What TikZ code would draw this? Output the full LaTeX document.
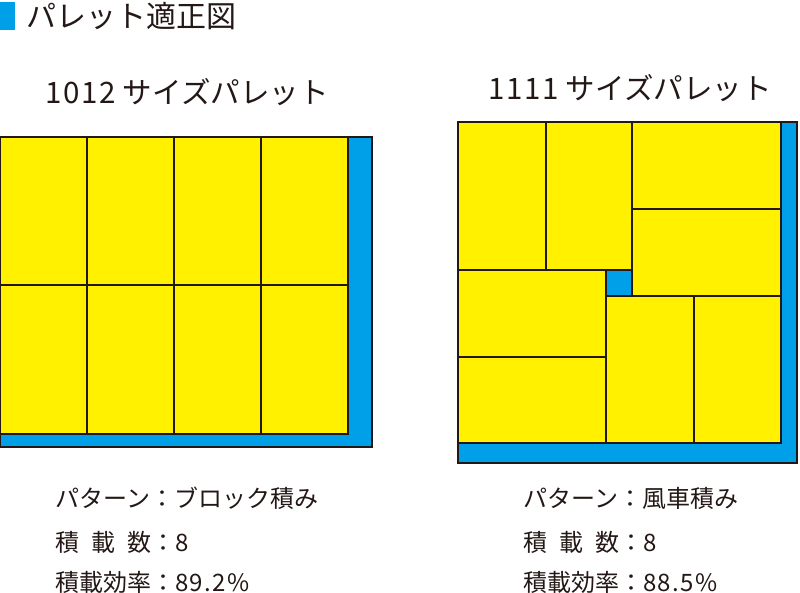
\documentclass[tikz,border=0pt]{standalone}
\usepackage{fontspec}
\setmainfont{Noto Sans CJK JP}
\newfontfamily\jp{Noto Sans CJK JP}
\newfontfamily\jpw[LetterSpace=6]{Noto Sans CJK JP}
\definecolor{pyellow}{HTML}{FFF100}
\definecolor{pblue}{HTML}{00A0E9}
\definecolor{ink}{HTML}{231815}
\begin{document}
\begin{tikzpicture}[x=1pt,y=-1pt,
  box/.style={fill=pyellow,draw=ink,line width=1.5pt},
  base/.style={fill=pblue,draw=ink,line width=1.5pt},
  ttl/.style={text=ink,font=\jp\fontsize{29.5}{34}\selectfont,inner sep=0pt},
  info/.style={text=ink,font=\jp\fontsize{24}{28}\selectfont,inner sep=0pt,anchor=west}]
\useasboundingbox (0,0) rectangle (800,593);
% header
\fill[pblue] (0,2) rectangle (15,30);
\node[ttl,anchor=west,font=\jp\fontsize{30}{34}\selectfont] (hdr) at (26,16) {パレット適正図};
% titles
\node[ttl] (t1) at (187,92) {{\jpw 1012} サイズパレット};
\node[ttl] (t2) at (630,88) {{\jpw 1111} サイズパレット};
% left pallet
\draw[base] (0,137) rectangle (372,447);
\foreach \x in {0,87,174,261}{
  \draw[box] (\x,137) rectangle ++(87,148);
  \draw[box] (\x,285) rectangle ++(87,149);
}
% right pallet
\draw[base] (458,122) rectangle (797,463);
\draw[box] (458,122) rectangle (546,270);
\draw[box] (546,122) rectangle (632,270);
\draw[box] (632,122) rectangle (781,209);
\draw[box] (632,209) rectangle (781,296);
\draw[box] (458,270) rectangle (606,357);
\draw[box] (458,357) rectangle (606,443);
\draw[box] (606,296) rectangle (694,443);
\draw[box] (694,296) rectangle (781,443);
% info text left
\node[info] (l1) at (55,498) {パターン：ブロック積み};
\node[info] (l2) at (55,542) {積\hspace{0.5em}載\hspace{0.5em}数：8};
\node[info] (l3) at (55,582) {積載効率：{\jpw 89.2\%}};
% info text right
\node[info] (r1) at (523,498) {パターン：風車積み};
\node[info] (r2) at (523,542) {積\hspace{0.5em}載\hspace{0.5em}数：8};
\node[info] (r3) at (523,582) {積載効率：{\jpw 88.5\%}};
\end{tikzpicture}
\end{document}
